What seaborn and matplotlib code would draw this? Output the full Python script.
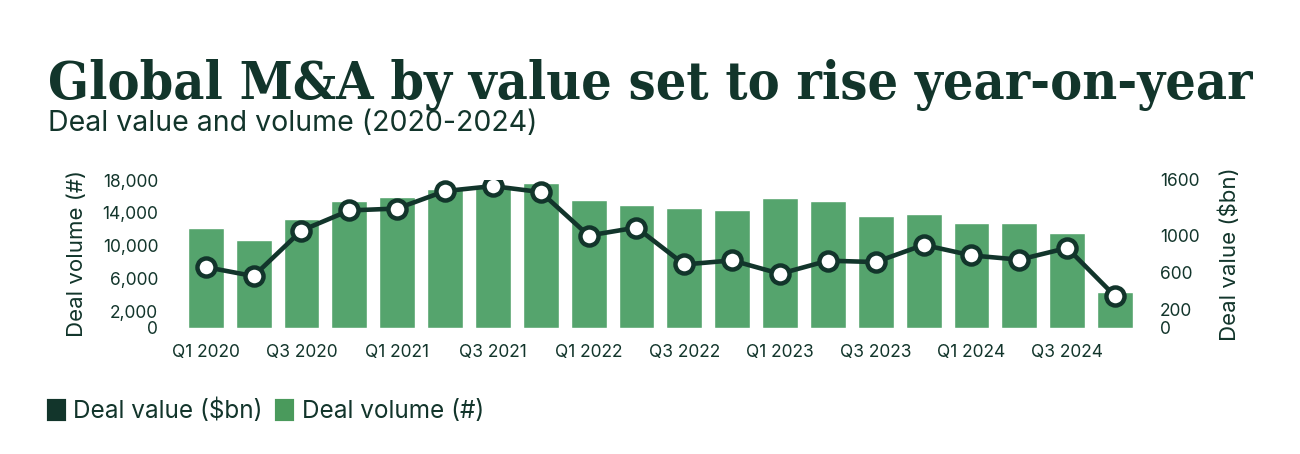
import numpy as np
import matplotlib
matplotlib.use("Agg")
import matplotlib.pyplot as plt
from matplotlib.patches import Patch
from matplotlib.ticker import FuncFormatter
import seaborn as sns

# ── Data ────────────────────────────────────────────────────────────────────
quarters = [
    "Q1 2020", "Q2 2020", "Q3 2020", "Q4 2020",
    "Q1 2021", "Q2 2021", "Q3 2021", "Q4 2021",
    "Q1 2022", "Q2 2022", "Q3 2022", "Q4 2022",
    "Q1 2023", "Q2 2023", "Q3 2023", "Q4 2023",
    "Q1 2024", "Q2 2024", "Q3 2024", "Q4 2024",
]
deal_volume = [
    12200, 10700, 13300, 15400, 15900, 16850, 17300, 17650,
    15600, 14900, 14600, 14350, 15750, 15450, 13650, 13800,
    12700, 12700, 11550, 4400,
]
deal_value = [
    657, 559, 1052, 1270, 1291, 1480, 1534, 1469,
    998, 1085, 685, 729, 584, 726, 711, 897,
    783, 737, 864, 342,
]
left_ticks = [0, 2000, 6000, 10000, 14000, 18000]
right_ticks = [0, 200, 600, 1000, 1600]

# ── Style ───────────────────────────────────────────────────────────────────
DARK = "#12352b"
GREEN = "#55a46d"
LEGEND_GREEN = "#4a9a5c"

sns.set_theme(style="white")
plt.rcParams["font.family"] = ["Inter", "DejaVu Sans"]
plt.rcParams["text.color"] = DARK
plt.rcParams["axes.labelcolor"] = DARK
plt.rcParams["xtick.color"] = DARK
plt.rcParams["ytick.color"] = DARK

fig = plt.figure(figsize=(13, 4.54), dpi=100)
ax = fig.add_axes([181.8 / 1300, 1 - 327.7 / 454, (1139 - 181.8) / 1300, (327.7 - 180) / 454])

sns.barplot(x=quarters, y=deal_volume, ax=ax, color=GREEN, width=0.75,
            saturation=1, errorbar=None)
ax.set_ylim(0, 18000)
ax.set_yticks(left_ticks)
ax.yaxis.set_major_formatter(FuncFormatter(lambda v, _: f"{int(v):,}"))
ax.set_xlim(-0.5, len(quarters) - 0.5)

ax2 = ax.twinx()
sns.pointplot(x=quarters, y=deal_value, ax=ax2, color=DARK, errorbar=None,
              markers="o", markersize=13, markerfacecolor="white",
              markeredgewidth=3.2, markeredgecolor=DARK, linewidth=3.3)
ax2.set_ylim(0, 1600)
ax2.set_yticks(right_ticks)
ax2.set_xlim(-0.5, len(quarters) - 0.5)

ax.set_xticks(range(0, len(quarters), 2))
ax.set_xticklabels(quarters[::2])

for a in (ax, ax2):
    for s in a.spines.values():
        s.set_visible(False)
    a.tick_params(length=0, labelsize=12.5)
    a.grid(False)
ax.tick_params(axis="y", pad=17)
ax2.tick_params(axis="y", pad=15)
ax.tick_params(axis="x", pad=12)

ax.set_xlabel("")
ax.set_ylabel("Deal volume (#)", fontsize=16, labelpad=11)
ax2.set_ylabel("Deal value ($bn)", fontsize=16, labelpad=14)

# ── Titles ──────────────────────────────────────────────────────────────────
fig.text(48 / 1300, 1 - 99 / 454, "Global M&A by value set to rise year-on-year",
         fontsize=38.5, fontweight="bold", fontstretch="condensed",
         family=["DejaVu Serif"], color=DARK, va="baseline", ha="left")
fig.text(48 / 1300, 1 - 131 / 454, "Deal value and volume (2020-2024)",
         fontsize=20.5, color=DARK, va="baseline", ha="left")

# ── Legend ──────────────────────────────────────────────────────────────────
handles = [
    Patch(facecolor=DARK, edgecolor=DARK, linewidth=3, joinstyle="round", label="Deal value ($bn)"),
    Patch(facecolor=LEGEND_GREEN, edgecolor=LEGEND_GREEN, linewidth=3, joinstyle="round", label="Deal volume (#)"),
]
fig.legend(handles=handles, loc="center left", bbox_to_anchor=(49 / 1300, 1 - 411 / 454),
           ncol=2, frameon=False, fontsize=17.5, handlelength=0.6, handleheight=0.75,
           handletextpad=0.4, columnspacing=0.6, borderpad=0, borderaxespad=0)

fig.savefig("out.png", dpi=100)
